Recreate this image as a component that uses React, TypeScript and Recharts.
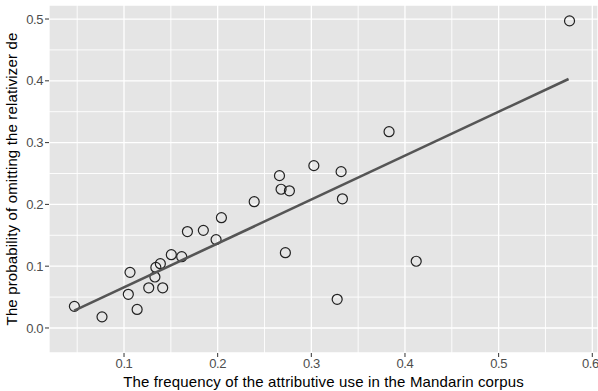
import { CartesianGrid, ReferenceLine, Scatter, ScatterChart, XAxis, YAxis } from "recharts";

// attributive-use frequency (x) vs. probability of omitting de (y)
const frequency = [
  0.047, 0.0765, 0.114, 0.1046, 0.1064, 0.1264, 0.1413, 0.133, 0.134, 0.1388,
  0.1505, 0.1616, 0.1677, 0.1847, 0.1983, 0.204, 0.239, 0.2723, 0.266, 0.2677,
  0.2766, 0.5757, 0.383, 0.3027, 0.3318, 0.3332, 0.412, 0.3276,
];
const omission = [
  0.035, 0.018, 0.03, 0.0545, 0.09, 0.065, 0.065, 0.0825, 0.098, 0.104,
  0.1186, 0.1154, 0.156, 0.158, 0.143, 0.1785, 0.2044, 0.1218, 0.2465, 0.2245,
  0.222, 0.497, 0.3177, 0.2627, 0.253, 0.209, 0.108, 0.0464,
];

// fitted linear trend, endpoints
const fitX = [0.0468, 0.5747];
const fitY = [0.028, 0.403];

const xTicks = [0.1, 0.2, 0.3, 0.4, 0.5, 0.6];
const yTicks = [0.0, 0.1, 0.2, 0.3, 0.4, 0.5];
const xMinor = [0.05, 0.15, 0.25, 0.35, 0.45, 0.55];
const yMinor = [0.05, 0.15, 0.25, 0.35, 0.45];

const points = frequency.map((x, i) => ({ x, y: omission[i] }));
const fit = fitX.map((x, i) => ({ x, y: fitY[i] }));

const font = "'Liberation Sans', Arial, sans-serif";
const tickStyle = { fontSize: 13, fill: "#4D4D4D", fontFamily: font, letterSpacing: -0.4 };

const xLabel = (props: any) => {
  const vb = props.viewBox;
  return (
    <text
      x={vb.x + vb.width / 2}
      y={387}
      textAnchor="middle"
      fontSize={15}
      letterSpacing={0.15}
      fontFamily={font}
      fill="#000"
    >
      The frequency of the attributive use in the Mandarin corpus
    </text>
  );
};

const yLabel = (props: any) => {
  const vb = props.viewBox;
  const cy = vb.y + vb.height / 2;
  return (
    <text
      x={17}
      y={cy}
      transform={`rotate(-90, 17, ${cy})`}
      textAnchor="middle"
      fontSize={15}
      letterSpacing={0.15}
      fontFamily={font}
      fill="#000"
    >
      The probability of omitting the relativizer de
    </text>
  );
};

const ring = (props: any) => (
  <circle cx={props.cx} cy={props.cy} r={5} fill="none" stroke="#222222" strokeWidth={1.2} />
);

export default function App() {
  return (
    <div style={{ position: "absolute", left: 0, top: 0 }}>
      <ScatterChart
        width={598}
        height={391}
        margin={{ top: 5, right: 0, left: 0, bottom: 0 }}
        style={{ background: "#fff" }}
      >
        <CartesianGrid fill="#E5E5E5" stroke="#FFFFFF" strokeWidth={1.3} />
        {xMinor.map((v) => (
          <ReferenceLine key={`vx${v}`} x={v} stroke="#FFFFFF" strokeWidth={0.9} />
        ))}
        {yMinor.map((v) => (
          <ReferenceLine key={`hy${v}`} y={v} stroke="#FFFFFF" strokeWidth={0.9} />
        ))}
        <XAxis
          type="number"
          dataKey="x"
          domain={[0.0199, 0.6061]}
          ticks={xTicks}
          tickFormatter={(v: number) => String(Number(v.toFixed(1)))}
          axisLine={false}
          tickLine={{ stroke: "#333333" }}
          tickSize={4}
          tickMargin={2}
          tick={tickStyle}
          height={38}
          allowDataOverflow
          label={xLabel}
        />
        <YAxis
          type="number"
          dataKey="y"
          domain={[-0.0405, 0.5227]}
          ticks={yTicks}
          tickFormatter={(v: number) => v.toFixed(1)}
          axisLine={false}
          tickLine={{ stroke: "#333333" }}
          tickSize={4}
          tickMargin={2}
          tick={tickStyle}
          width={49}
          allowDataOverflow
          label={yLabel}
        />
        <Scatter data={points} shape={ring} isAnimationActive={false} />
        <Scatter
          data={fit}
          line={{ stroke: "#555555", strokeWidth: 2.6 }}
          shape={() => <g />}
          isAnimationActive={false}
        />
      </ScatterChart>
    </div>
  );
}
